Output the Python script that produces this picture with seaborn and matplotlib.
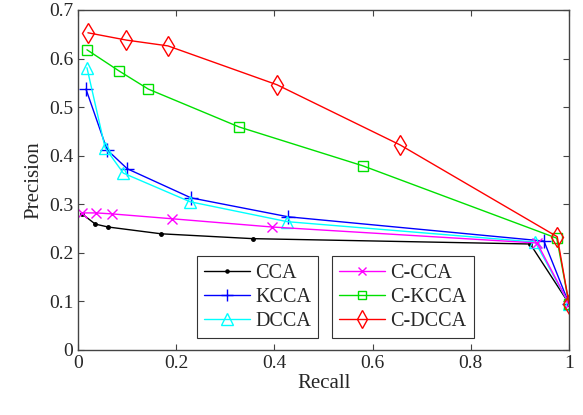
import numpy as np
import pandas as pd
import matplotlib
matplotlib.use("Agg")
import matplotlib.pyplot as plt
import seaborn as sns

# recall / precision
cca_r = [0.008, 0.035, 0.061, 0.169, 0.356, 0.921, 1.0]
cca_p = [0.280, 0.259, 0.253, 0.239, 0.229, 0.218, 0.095]
kcca_r = [0.016, 0.059, 0.100, 0.230, 0.428, 0.949, 1.0]
kcca_p = [0.537, 0.412, 0.373, 0.313, 0.274, 0.224, 0.095]
dcca_r = [0.018, 0.055, 0.092, 0.228, 0.426, 0.931, 1.0]
dcca_p = [0.581, 0.416, 0.364, 0.305, 0.264, 0.222, 0.095]
ccca_r = [0.008, 0.037, 0.069, 0.191, 0.395, 0.935, 1.0]
ccca_p = [0.282, 0.282, 0.280, 0.270, 0.253, 0.220, 0.095]
ckcca_r = [0.018, 0.084, 0.143, 0.328, 0.580, 0.975, 1.0]
ckcca_p = [0.618, 0.574, 0.537, 0.459, 0.379, 0.230, 0.095]
cdcca_r = [0.020, 0.098, 0.183, 0.405, 0.656, 0.976, 1.0]
cdcca_p = [0.653, 0.638, 0.626, 0.546, 0.422, 0.233, 0.095]

series = [
    ("CCA", cca_r, cca_p, "black", ".", 5),
    ("KCCA", kcca_r, kcca_p, "blue", "+", 10),
    ("DCCA", dcca_r, dcca_p, "cyan", "^", 9),
    ("C-CCA", ccca_r, ccca_p, "magenta", "x", 7),
    ("C-KCCA", ckcca_r, ckcca_p, "#00e000", "s", 7),
    ("C-DCCA", cdcca_r, cdcca_p, "red", "d", 10),
]

sns.set_style("ticks")
plt.rcParams["font.family"] = ["Liberation Serif", "DejaVu Serif"]
plt.rcParams["xtick.direction"] = "in"
plt.rcParams["ytick.direction"] = "in"

fig = plt.figure(figsize=(5.83, 4.15), dpi=100)
ax = fig.add_axes([0.134, 0.157, 0.842, 0.819])

handles = []
for name, r, p, col, mk, ms in series:
    df = pd.DataFrame({"Recall": r, "Precision": p})
    sns.lineplot(data=df, x="Recall", y="Precision", ax=ax, sort=False,
                 color=col, marker=mk, markersize=ms, linewidth=1,
                 mfc="none" if mk in ("^", "s", "d") else col,
                 mec=col, mew=1, label=name, legend=False)
    handles.append(ax.lines[-1])

ax.set_xlim(0, 1)
ax.set_ylim(0, 0.7)
ax.set_xticks(np.arange(0, 1.01, 0.2))
ax.set_xticklabels(["0", "0.2", "0.4", "0.6", "0.8", "1"])
ax.set_yticks(np.arange(0, 0.71, 0.1))
ax.set_yticklabels(["0", "0.1", "0.2", "0.3", "0.4", "0.5", "0.6", "0.7"])
ax.tick_params(labelsize=14, top=True, right=True, length=4, color="#444444")
ax.set_xlabel("Recall", fontsize=15, labelpad=2)
ax.set_ylabel("Precision", fontsize=15, labelpad=4)
for s in ax.spines.values():
    s.set_visible(True)
    s.set_color("#444444")
    s.set_linewidth(1)

kw = dict(fontsize=14.5, frameon=True, fancybox=False, edgecolor="#333333",
          framealpha=1, handlelength=2.3, borderpad=0.35, labelspacing=0.25,
          handletextpad=0.25, borderaxespad=0, markerscale=0.9,
          loc="lower left")
leg1 = ax.legend(handles=handles[:3], bbox_to_anchor=(0.242, 0.035), **kw)
leg1.get_frame().set_linewidth(0.8)
ax.add_artist(leg1)
leg2 = ax.legend(handles=handles[3:], bbox_to_anchor=(0.517, 0.035), **kw)
leg2.get_frame().set_linewidth(0.8)

fig.savefig("out.png", dpi=100)
